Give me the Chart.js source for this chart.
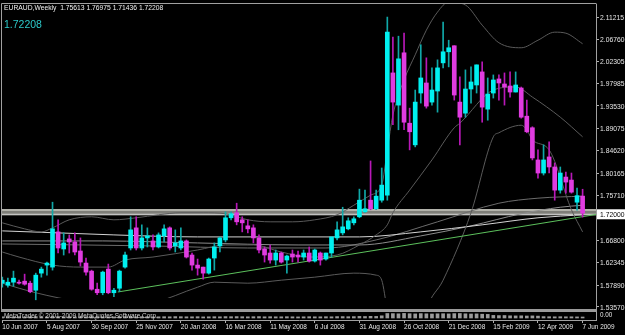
<!DOCTYPE html>
<html>
<head>
<meta charset="utf-8">
<script src="https://cdn.jsdelivr.net/npm/chart.js@4.4.0/dist/chart.umd.min.js"></script>
<style>
    html, body { margin: 0; padding: 0; background: #000; }
    #wrap { width: 625px; height: 335px; position: relative; }
</style>
</head>
<body>
<div id="wrap"><canvas id="chart"></canvas></div>
<script>
// header info
const symbolTitle = 'EURAUD,Weekly';
const lastBar = { open: 1.75613, high: 1.76975, low: 1.71436, close: 1.72208 };
const lineLevel = 1.72000;

// weekly candles, 10 Jun 2007 .. 7 Jun 2009
const opens = [
    1.583, 1.579, 1.585, 1.585, 1.587, 1.583, 1.569, 1.603, 1.619, 1.615,
    1.685, 1.651, 1.671, 1.665, 1.647, 1.623, 1.607, 1.571, 1.564, 1.611,
    1.564, 1.573, 1.615, 1.653, 1.693, 1.653, 1.673, 1.667, 1.655, 1.677,
    1.693, 1.657, 1.653, 1.667, 1.639, 1.619, 1.615, 1.603, 1.633, 1.657,
    1.669, 1.713, 1.723, 1.709, 1.697, 1.693, 1.673, 1.651, 1.643, 1.629,
    1.643, 1.629, 1.641, 1.639, 1.635, 1.643, 1.627, 1.643, 1.631, 1.643,
    1.673, 1.683, 1.691, 1.703, 1.715, 1.725, 1.748, 1.731, 1.748, 1.758,
    2.001, 1.937, 2.041, 1.901, 1.858, 1.961, 1.981, 1.943, 1.965, 2.021,
    2.043, 2.055, 1.943, 1.921, 1.969, 1.977, 2.003, 1.929, 1.961, 1.989,
    1.979, 1.975, 1.963, 1.971, 1.915, 1.892, 1.828, 1.802, 1.834, 1.814,
    1.768, 1.794, 1.788, 1.744, 1.75613
];
const highs = [
    1.595, 1.593, 1.607, 1.589, 1.601, 1.587, 1.603, 1.615, 1.625, 1.744,
    1.709, 1.683, 1.679, 1.683, 1.673, 1.633, 1.609, 1.583, 1.607, 1.621,
    1.573, 1.609, 1.645, 1.715, 1.715, 1.699, 1.693, 1.679, 1.683, 1.699,
    1.695, 1.689, 1.693, 1.669, 1.643, 1.631, 1.615, 1.633, 1.663, 1.675,
    1.725, 1.725, 1.742, 1.715, 1.709, 1.699, 1.679, 1.655, 1.659, 1.649,
    1.645, 1.639, 1.649, 1.647, 1.649, 1.655, 1.651, 1.645, 1.643, 1.675,
    1.705, 1.734, 1.713, 1.715, 1.770, 1.768, 1.826, 1.768, 1.812, 2.112,
    2.072, 2.074, 2.080, 1.931, 1.967, 2.057, 2.031, 2.011, 2.027, 2.102,
    2.066, 2.055, 1.993, 2.007, 2.013, 2.017, 2.023, 1.991, 1.997, 1.997,
    2.001, 2.003, 2.003, 1.973, 1.947, 1.894, 1.848, 1.858, 1.864, 1.822,
    1.814, 1.804, 1.802, 1.772, 1.76975
];
const lows = [
    1.575, 1.575, 1.577, 1.581, 1.579, 1.564, 1.550, 1.595, 1.599, 1.609,
    1.643, 1.639, 1.643, 1.639, 1.617, 1.599, 1.569, 1.560, 1.560, 1.562,
    1.556, 1.566, 1.613, 1.649, 1.649, 1.649, 1.655, 1.649, 1.653, 1.665,
    1.649, 1.645, 1.649, 1.633, 1.609, 1.599, 1.591, 1.601, 1.609, 1.645,
    1.665, 1.709, 1.699, 1.685, 1.683, 1.663, 1.643, 1.625, 1.623, 1.619,
    1.623, 1.603, 1.625, 1.625, 1.629, 1.625, 1.625, 1.619, 1.629, 1.635,
    1.669, 1.679, 1.689, 1.699, 1.713, 1.723, 1.729, 1.729, 1.744, 1.748,
    1.898, 1.888, 1.888, 1.848, 1.854, 1.941, 1.931, 1.937, 1.923, 2.011,
    2.013, 1.947, 1.858, 1.913, 1.941, 1.961, 1.903, 1.907, 1.951, 1.947,
    1.937, 1.953, 1.963, 1.911, 1.882, 1.828, 1.792, 1.798, 1.802, 1.748,
    1.762, 1.762, 1.762, 1.728, 1.71436
];
const closes = [
    1.589, 1.585, 1.593, 1.583, 1.581, 1.566, 1.599, 1.611, 1.623, 1.691,
    1.653, 1.663, 1.665, 1.645, 1.625, 1.605, 1.571, 1.564, 1.605, 1.564,
    1.569, 1.607, 1.639, 1.689, 1.653, 1.673, 1.677, 1.655, 1.679, 1.691,
    1.653, 1.663, 1.667, 1.635, 1.619, 1.613, 1.603, 1.631, 1.655, 1.673,
    1.713, 1.721, 1.705, 1.703, 1.691, 1.673, 1.649, 1.639, 1.629, 1.643,
    1.625, 1.637, 1.635, 1.635, 1.643, 1.627, 1.649, 1.629, 1.643, 1.675,
    1.689, 1.695, 1.707, 1.711, 1.748, 1.731, 1.731, 1.756, 1.778, 2.082,
    1.943, 2.029, 1.903, 1.884, 1.943, 1.991, 1.935, 1.967, 2.011, 2.043,
    2.051, 1.957, 1.913, 1.969, 1.983, 2.017, 1.933, 1.959, 1.987, 1.981,
    1.973, 1.963, 1.977, 1.913, 1.884, 1.832, 1.802, 1.828, 1.814, 1.768,
    1.802, 1.784, 1.764, 1.757, 1.72208
];
// tick volume, thousands
const volumes = [
    12, 11, 12, 13, 11, 12, 14, 12, 11, 15, 14, 12, 12, 11, 13, 12, 13, 12, 11, 12, 11,
    12, 13, 14, 12, 13, 12, 11, 12, 13, 12, 14, 13, 12, 12, 13, 11, 12, 13, 12, 14,
    13, 14, 13, 12, 13, 14, 12, 13, 12, 12, 13, 12, 11, 12, 13, 12, 12, 13, 12, 14,
    14, 13, 14, 16, 15, 17, 16, 22,
    45, 44, 42, 46, 43, 41, 44, 42, 40, 42, 43, 41, 44, 45, 42, 40, 41, 38, 36,
    26, 24, 25, 22, 21, 22, 20, 21, 19,
    14, 13, 12, 13, 12, 12, 11, 10
];

// axis labels
const tickWeeks = [0, 8, 16, 24, 32, 40, 48, 56, 64, 72, 80, 88, 96, 104];
const tickLabels = ['10 Jun 2007', '5 Aug 2007', '30 Sep 2007', '25 Nov 2007', '20 Jan 2008',
    '16 Mar 2008', '11 May 2008', '6 Jul 2008', '31 Aug 2008', '26 Oct 2008',
    '21 Dec 2008', '15 Feb 2009', '12 Apr 2009', '7 Jun 2009'];
const priceTicks = [2.11215, 2.06760, 2.02305, 1.97985, 1.93530, 1.89075, 1.84620,
    1.80165, 1.75710, 1.66800, 1.62345, 1.57890, 1.53570];

// indicator lines (read at some weeks)
const bbUpperWeeks = [0, 4, 7, 9, 12, 16, 20, 24, 28, 32, 36, 40, 44, 48, 52, 56, 60, 63, 66, 68, 69, 70, 72, 74, 76, 78, 80, 83, 86, 89, 93, 96, 99, 101, 104];
const bbUpper = [1.703, 1.691, 1.685, 1.693, 1.709, 1.715, 1.709, 1.713, 1.719, 1.723, 1.723, 1.721, 1.709, 1.705, 1.705, 1.709, 1.719, 1.738, 1.758, 1.778, 1.848, 1.917, 1.987, 2.037, 2.086, 2.122, 2.142, 2.136, 2.096, 2.061, 2.051, 2.066, 2.082, 2.080, 2.059];
const bbMidWeeks = [0, 3, 9, 14, 19, 22, 27, 35, 40, 45, 50, 55, 60, 64, 67, 69, 70, 73, 77, 81, 82, 88, 92, 95, 100, 104];
const bbMid = [1.645, 1.635, 1.619, 1.615, 1.615, 1.629, 1.635, 1.649, 1.659, 1.659, 1.645, 1.635, 1.639, 1.659, 1.679, 1.699, 1.723, 1.768, 1.828, 1.892, 1.901, 1.967, 1.973, 1.953, 1.913, 1.874];
const bbLowerWeeks = [0, 3, 6, 10, 14, 20, 23, 27, 35, 38, 44, 50, 56, 63, 67, 68, 69, 70, 72, 75, 76, 79, 84, 88, 89, 93, 94, 95, 98, 102, 104];
const bbLower = [1.583, 1.573, 1.564, 1.554, 1.546, 1.538, 1.540, 1.544, 1.575, 1.585, 1.583, 1.589, 1.595, 1.603, 1.599, 1.589, 1.530, 1.490, 1.460, 1.480, 1.530, 1.589, 1.723, 1.874, 1.882, 1.897, 1.888, 1.868, 1.848, 1.729, 1.685];
const maWhiteWeeks = [0, 10, 20, 35, 53, 64, 75, 86, 96, 104];
const maWhite = [1.687, 1.683, 1.679, 1.675, 1.675, 1.675, 1.685, 1.699, 1.713, 1.719];
const maGrayWeeks = [0, 18, 35, 53, 64, 75, 84, 93, 100, 104];
const maGray = [1.667, 1.667, 1.663, 1.659, 1.659, 1.677, 1.697, 1.721, 1.734, 1.738];
const maDarkWeeks = [0, 27, 44, 58, 67, 78, 89, 96, 104];
const maDark = [1.661, 1.657, 1.653, 1.653, 1.669, 1.705, 1.742, 1.752, 1.756];

// horizontal zone and trend line
const zoneTop = 1.7285;
const zoneMid = 1.7236;
const trendWeeks = [20.7, 106.4];
const trendPrices = [1.5655, 1.7196];

const xMin = -0.054, xMax = 106.4;
const priceMin = 1.5317, priceMax = 2.1380;

const bullBody = '#00f0f0', bearBody = '#e03ce0';
const bullWick = '#10a8a8', bearWick = '#b818b8';
const mainClip = { left: 0, top: 0, right: 0, bottom: -11 };
const axisFont = '7.5px "Liberation Sans"';

function pts(weeks, vals) {
    return weeks.map((w, k) => ({ x: w, y: vals[k] }));
}
function lineSet(data, color, width) {
    return {
        type: 'line', data: data, borderColor: color, borderWidth: width || 1,
        pointRadius: 0, tension: 0.35, cubicInterpolationMode: 'monotone',
        yAxisID: 'y', clip: mainClip
    };
}
// narrow text, like the small terminal font
function narrowText(ctx, text, x, y, squeeze) {
    ctx.save();
    ctx.translate(x, y);
    ctx.scale(squeeze, 1);
    ctx.fillText(text, 0, 0);
    ctx.restore();
}

const idx = opens.map((o, i) => i);
const up = idx.map(i => closes[i] >= opens[i]);

const overlay = {
    id: 'overlay',
    afterDraw(chart) {
        const ctx = chart.ctx;
        const area = chart.chartArea;
        const xs = chart.scales.x;
        const yMain = chart.scales.y;
        const yVol = chart.scales.y2;
        ctx.save();
        // frame of the price window
        ctx.strokeStyle = '#a0a0a0';
        ctx.lineWidth = 1;
        ctx.beginPath();
        ctx.moveTo(area.left - 0.5, yMain.bottom);
        ctx.lineTo(area.left - 0.5, area.top - 0.5);
        ctx.lineTo(area.right + 0.5, area.top - 0.5);
        ctx.stroke();
        // separator between windows
        ctx.fillStyle = '#9a9a9a';
        ctx.fillRect(area.left - 1, yMain.bottom, area.right - area.left + 2, 3);

        // axis labels
        ctx.fillStyle = '#e6e6e6';
        ctx.font = axisFont;
        ctx.textAlign = 'left';
        ctx.textBaseline = 'middle';
        priceTicks.forEach(v => {
            narrowText(ctx, v.toFixed(5), area.right + 4, yMain.getPixelForValue(v) + 0.5, 0.9);
        });
        ctx.textBaseline = 'top';
        tickWeeks.forEach((w, k) => {
            narrowText(ctx, tickLabels[k], xs.getPixelForValue(w), xs.top + 3, 0.86);
        });

        // header
        ctx.fillStyle = '#f0f0f0';
        ctx.textBaseline = 'alphabetic';
        narrowText(ctx, symbolTitle + '  ' + lastBar.open.toFixed(5) + ' ' + lastBar.high.toFixed(5) + ' ' +
            lastBar.low.toFixed(5) + ' ' + lastBar.close.toFixed(5), 4, 10, 0.9);
        ctx.fillStyle = '#2cc8c8';
        ctx.font = '10.5px "Liberation Sans"';
        ctx.fillText(lastBar.close.toFixed(5), 4, 28);

        // price label of the horizontal line
        const py = yMain.getPixelForValue(lineLevel);
        ctx.fillStyle = '#ffffff';
        ctx.fillRect(area.right + 1, py - 5, 28, 10);
        ctx.fillStyle = '#000000';
        ctx.font = axisFont;
        ctx.textBaseline = 'middle';
        narrowText(ctx, lineLevel.toFixed(5), area.right + 4, py + 0.5, 0.9);

        // volume window texts
        ctx.fillStyle = '#d0d0d0';
        ctx.font = '7px "Liberation Sans"';
        ctx.textBaseline = 'alphabetic';
        narrowText(ctx, 'MetaTrader \u00a9 2001-2009 MetaQuotes Software Corp.', 4, yVol.bottom - 2, 0.92);
        ctx.fillStyle = '#e8e8e8';
        narrowText(ctx, '0.00', area.right + 4, yVol.bottom - 3, 0.9);
        ctx.restore();
    }
};

const ctx = document.getElementById('chart').getContext('2d');
new Chart(ctx, {
    type: 'bar',
    data: {
        datasets: [
            {
                // bodies
                data: idx.map(i => ({ x: i, y: [opens[i], closes[i]] })),
                backgroundColor: idx.map(i => up[i] ? bullBody : bearBody),
                barThickness: 4, minBarLength: 1, grouped: false, yAxisID: 'y'
            },
            {
                // wicks
                data: idx.map(i => ({ x: i, y: [lows[i], highs[i]] })),
                backgroundColor: idx.map(i => up[i] ? bullWick : bearWick),
                barThickness: 1, grouped: false, yAxisID: 'y'
            },
            lineSet(pts(trendWeeks, trendPrices), '#5cc05c'),
            lineSet(pts(bbUpperWeeks, bbUpper), '#5a5a5a'),
            lineSet(pts(bbMidWeeks, bbMid), '#5a5a5a'),
            lineSet(pts(bbLowerWeeks, bbLower), '#5a5a5a'),
            lineSet(pts(maWhiteWeeks, maWhite), '#d4d4d4'),
            lineSet(pts(maGrayWeeks, maGray), '#8c8c8c'),
            lineSet(pts(maDarkWeeks, maDark), '#6c6c6c'),
            lineSet([{ x: xMin, y: lineLevel }, { x: xMax, y: lineLevel }], '#d8d8d8'),
            lineSet([{ x: xMin, y: zoneTop }, { x: xMax, y: zoneTop }], '#b2b2aa', 2),
            lineSet([{ x: xMin, y: zoneMid }, { x: xMax, y: zoneMid }], '#7e7e78', 6),
            {
                // volumes
                data: idx.map(i => ({ x: i, y: volumes[i] })),
                backgroundColor: '#9a9a9a',
                barThickness: 3, grouped: false, yAxisID: 'y2'
            }
        ]
    },
    options: {
        responsive: true,
        maintainAspectRatio: false,
        animation: false,
        layout: { padding: { left: 2, top: 4, right: 0, bottom: 0 } },
        plugins: { legend: { display: false }, tooltip: { enabled: false } },
        scales: {
            x: {
                type: 'linear', min: xMin, max: xMax, offset: false,
                grid: { offset: false, drawOnChartArea: false, drawTicks: true, tickLength: 3, color: '#b0b0b0' },
                border: { display: true, color: '#a0a0a0' },
                afterBuildTicks: s => { s.ticks = tickWeeks.map(v => ({ value: v })); },
                afterFit: s => { s.height = 15; },
                ticks: { display: false, autoSkip: false }
            },
            y: {
                type: 'linear', position: 'right', stack: 'win', stackWeight: 305,
                min: priceMin, max: priceMax,
                grid: { drawOnChartArea: false, tickLength: 3, color: '#b0b0b0' },
                border: { display: true, color: '#a0a0a0' },
                afterBuildTicks: s => { s.ticks = priceTicks.map(v => ({ value: v })); },
                afterFit: s => { s.width = 29; },
                ticks: { display: false, autoSkip: false }
            },
            y2: {
                type: 'linear', position: 'right', stack: 'win', stackWeight: 11,
                min: -20, max: 90,
                grid: { display: false },
                border: { display: true, color: '#a0a0a0' },
                afterFit: s => { s.width = 29; },
                ticks: { display: false }
            }
        }
    },
    plugins: [overlay]
});
</script>
</body>
</html>
